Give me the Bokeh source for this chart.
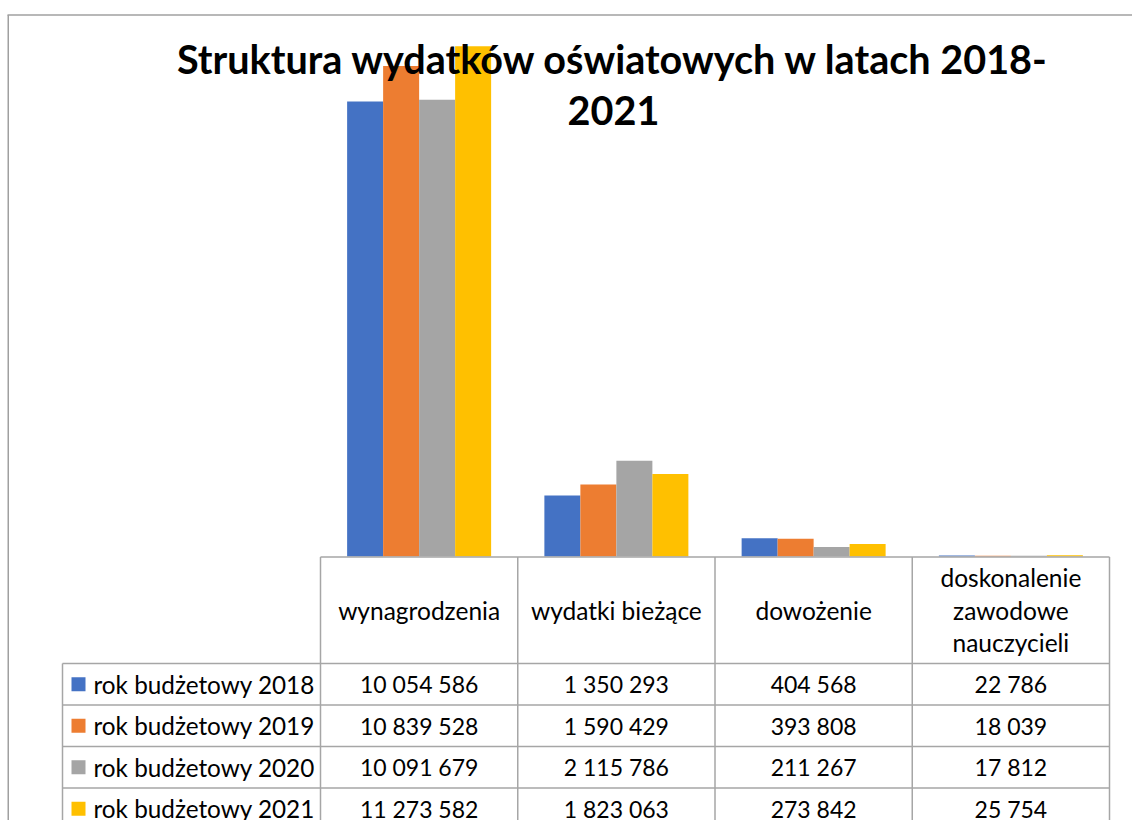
from bokeh.plotting import figure
from bokeh.models import Range1d
from bokeh.core.properties import value
from bokeh.embed import file_html
from bokeh.resources import INLINE

# ---------------- data ----------------
categories = ["wynagrodzenia", "wydatki bieżące", "dowożenie",
              "doskonalenie\nzawodowe\nnauczycieli"]
series = ["rok budżetowy 2018", "rok budżetowy 2019",
          "rok budżetowy 2020", "rok budżetowy 2021"]
y2018 = [10054586, 1350293, 404568, 22786]
y2019 = [10839528, 1590429, 393808, 18039]
y2020 = [10091679, 2115786, 211267, 17812]
y2021 = [11273582, 1823063, 273842, 25754]
values_by_series = [y2018, y2019, y2020, y2021]
colors = ["#4472C4", "#ED7D31", "#A5A5A5", "#FFC000"]
title_lines = ["Struktura wydatków oświatowych w latach 2018-", "2021"]
y_max = 12000000

# ---------------- layout (canvas px, y grows downward) ----------------
W, H = 1132, 820
base_y = 556.0          # value 0
top_y = 13.0            # value y_max
tbl_left = 320.0
col_w = 197.25
legend_left = 62.0
header_top = 556.5
header_bottom = 663.0
row_h = 41.5
bar_w = 36.0 / col_w
FONT = value("Lato")
line_col = "#A6A6A6"

p = figure(width=W, height=H, x_range=Range1d(0, W), y_range=Range1d(H, 0),
           output_backend="svg", toolbar_location=None, min_border=0,
           x_axis_location=None, y_axis_location=None)
p.grid.visible = False
p.outline_line_color = None
p.background_fill_color = "white"
p.border_fill_color = "white"

s = y_max / (base_y - top_y)
p.extra_y_ranges = {"val": Range1d(-(H - base_y) * s, base_y * s)}
p.extra_x_ranges = {"cat": Range1d(-tbl_left / col_w, (W - tbl_left) / col_w)}

# chart border (left and top)
p.segment(x0=[7.75, 7], y0=[14.5, 14.5], x1=[7.75, W], y1=[H, 14.5],
          line_color="#A0A0A0", line_width=1.5)

# bars
n = len(categories)
for j, vals in enumerate(values_by_series):
    xs = [i + 0.5 + (j - 1.5) * bar_w for i in range(n)]
    p.vbar(x=xs, top=vals, bottom=0, width=bar_w, fill_color=colors[j],
           line_color=None, x_range_name="cat", y_range_name="val")

# title
title_cx = 613
for k, t in enumerate(title_lines):
    p.text(x=[title_cx], y=[57.5 + k * 52], text=[t], text_font=FONT,
           text_font_size="39.6px", text_font_style="bold", text_color="#000000",
           text_align="center", text_baseline="middle")

# table lines
tbl_right = tbl_left + n * col_w
hx0, hy0, hx1, hy1 = [tbl_left], [header_top], [tbl_right], [header_top]
for r in range(len(series)):
    yy = header_bottom + r * row_h
    hx0.append(legend_left); hx1.append(tbl_right); hy0.append(yy); hy1.append(yy)
p.segment(x0=hx0, y0=hy0, x1=hx1, y1=hy1, line_color=line_col, line_width=1.5)
vx0, vy0, vx1, vy1 = [legend_left], [header_bottom], [legend_left], [H]
for c in range(n + 1):
    xx = tbl_left + c * col_w
    vx0.append(xx); vx1.append(xx); vy0.append(header_top); vy1.append(H)
p.segment(x0=vx0, y0=vy0, x1=vx1, y1=vy1, line_color=line_col, line_width=1.5)

# header texts
hdr_cy = (header_top + header_bottom) / 2
for i, cat in enumerate(categories):
    lines = cat.split("\n")
    m = len(lines)
    for k, ln in enumerate(lines):
        p.text(x=[tbl_left + (i + 0.5) * col_w], y=[hdr_cy + (k - (m - 1) / 2) * 32.5],
               text=[ln], text_font=FONT, text_font_size="24.5px", text_color="#000000",
               text_align="center", text_baseline="middle")

# rows
for r, (name, vals) in enumerate(zip(series, values_by_series)):
    cy = header_bottom + (r + 0.5) * row_h
    p.rect(x=[legend_left + 16], y=[cy], width=14, height=14,
           fill_color=colors[r], line_color=None)
    p.text(x=[legend_left + 31], y=[cy], text=[name], text_font=FONT,
           text_font_size="24.3px", text_color="#000000",
           text_align="left", text_baseline="middle")
    labels = [f"{v:,}".replace(",", " ") for v in vals]
    xs = [tbl_left + (i + 0.5) * col_w for i in range(n)]
    p.text(x=xs, y=[cy] * n, text=labels, text_font=FONT, text_font_size="23px",
           text_color="#000000", text_align="center", text_baseline="middle")

open("out.html", "w").write(file_html(p, INLINE))
